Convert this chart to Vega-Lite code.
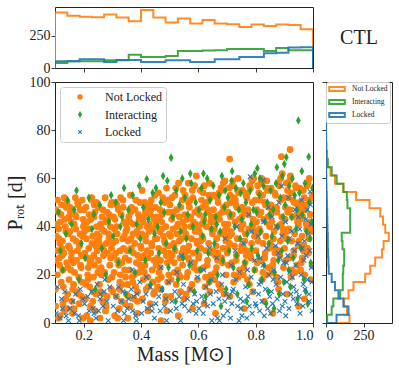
{
"$schema":"https://vega.github.io/schema/vega-lite/v6.json",
"padding":{"left":4,"top":6,"right":0,"bottom":0},
"config":{
 "font":"Liberation Serif",
 "view":{"stroke":"#222","strokeWidth":1},
 "axis":{"grid":false,"domain":false,"tickColor":"#222","tickWidth":0.9,"tickSize":4,"labelFontSize":14,"labelColor":"#222","labelPadding":1,"titleFontSize":20,"titleFontWeight":"normal","titleColor":"#222","labelFont":"Liberation Serif","titleFont":"Liberation Serif"}
},
"datasets":{
"top":[
{"c":"N","o":0,"m":0.1,"n":0},{"c":"N","o":1,"m":0.1,"n":433},{"c":"N","o":2,"m":0.1429,"n":406},{"c":"N","o":3,"m":0.1857,"n":400},{"c":"N","o":4,"m":0.2286,"n":395},{"c":"N","o":5,"m":0.2714,"n":417},{"c":"N","o":6,"m":0.3143,"n":393},{"c":"N","o":7,"m":0.3571,"n":365},{"c":"N","o":8,"m":0.4,"n":451},{"c":"N","o":9,"m":0.4429,"n":393},{"c":"N","o":10,"m":0.4857,"n":355},{"c":"N","o":11,"m":0.5286,"n":386},{"c":"N","o":12,"m":0.5714,"n":347},{"c":"N","o":13,"m":0.6143,"n":373},{"c":"N","o":14,"m":0.6571,"n":347},{"c":"N","o":15,"m":0.7,"n":341},{"c":"N","o":16,"m":0.7429,"n":320},{"c":"N","o":17,"m":0.7857,"n":339},{"c":"N","o":18,"m":0.8286,"n":328},{"c":"N","o":19,"m":0.8714,"n":339},{"c":"N","o":20,"m":0.9143,"n":334},{"c":"N","o":21,"m":0.9571,"n":302},{"c":"N","o":22,"m":1.0,"n":0},
{"c":"I","o":0,"m":0.1,"n":0},{"c":"I","o":1,"m":0.1,"n":39},{"c":"I","o":2,"m":0.1429,"n":52},{"c":"I","o":3,"m":0.1857,"n":52},{"c":"I","o":4,"m":0.2286,"n":52},{"c":"I","o":5,"m":0.2714,"n":60},{"c":"I","o":6,"m":0.3143,"n":60},{"c":"I","o":7,"m":0.3571,"n":104},{"c":"I","o":8,"m":0.4,"n":86},{"c":"I","o":9,"m":0.4429,"n":86},{"c":"I","o":10,"m":0.4857,"n":94},{"c":"I","o":11,"m":0.5286,"n":133},{"c":"I","o":12,"m":0.5714,"n":133},{"c":"I","o":13,"m":0.6143,"n":136},{"c":"I","o":14,"m":0.6571,"n":138},{"c":"I","o":15,"m":0.7,"n":148},{"c":"I","o":16,"m":0.7429,"n":148},{"c":"I","o":17,"m":0.7857,"n":148},{"c":"I","o":18,"m":0.8286,"n":133},{"c":"I","o":19,"m":0.8714,"n":156},{"c":"I","o":20,"m":0.9143,"n":138},{"c":"I","o":21,"m":0.9571,"n":138},{"c":"I","o":22,"m":1.0,"n":0},
{"c":"L","o":0,"m":0.1,"n":0},{"c":"L","o":1,"m":0.1,"n":52},{"c":"L","o":2,"m":0.1429,"n":52},{"c":"L","o":3,"m":0.1857,"n":68},{"c":"L","o":4,"m":0.2286,"n":68},{"c":"L","o":5,"m":0.2714,"n":47},{"c":"L","o":6,"m":0.3143,"n":63},{"c":"L","o":7,"m":0.3571,"n":63},{"c":"L","o":8,"m":0.4,"n":47},{"c":"L","o":9,"m":0.4429,"n":47},{"c":"L","o":10,"m":0.4857,"n":60},{"c":"L","o":11,"m":0.5286,"n":60},{"c":"L","o":12,"m":0.5714,"n":47},{"c":"L","o":13,"m":0.6143,"n":47},{"c":"L","o":14,"m":0.6571,"n":68},{"c":"L","o":15,"m":0.7,"n":68},{"c":"L","o":16,"m":0.7429,"n":86},{"c":"L","o":17,"m":0.7857,"n":86},{"c":"L","o":18,"m":0.8286,"n":115},{"c":"L","o":19,"m":0.8714,"n":118},{"c":"L","o":20,"m":0.9143,"n":160},{"c":"L","o":21,"m":0.9571,"n":162},{"c":"L","o":22,"m":1.0,"n":0}
],
"right":[
{"c":"N","o":0,"p":0,"n":0},{"c":"N","o":1,"p":0,"n":156},{"c":"N","o":2,"p":3.4,"n":140},{"c":"N","o":3,"p":6.8,"n":121},{"c":"N","o":4,"p":10.2,"n":150},{"c":"N","o":5,"p":13.6,"n":183},{"c":"N","o":6,"p":17,"n":261},{"c":"N","o":7,"p":20.4,"n":295},{"c":"N","o":8,"p":23.8,"n":328},{"c":"N","o":9,"p":27.2,"n":373},{"c":"N","o":10,"p":30.6,"n":384},{"c":"N","o":11,"p":34,"n":418},{"c":"N","o":12,"p":37.4,"n":395},{"c":"N","o":13,"p":40.8,"n":380},{"c":"N","o":14,"p":44.2,"n":362},{"c":"N","o":15,"p":47.6,"n":290},{"c":"N","o":16,"p":51,"n":200},{"c":"N","o":17,"p":54.4,"n":116},{"c":"N","o":18,"p":57.8,"n":60},{"c":"N","o":19,"p":61.2,"n":30},{"c":"N","o":20,"p":64.6,"n":9},{"c":"N","o":21,"p":68,"n":4},{"c":"N","o":22,"p":71.4,"n":2},{"c":"N","o":23,"p":74.8,"n":0},{"c":"N","o":24,"p":78.2,"n":0},{"c":"N","o":25,"p":81.6,"n":0},{"c":"N","o":26,"p":85,"n":0},
{"c":"I","o":0,"p":0,"n":0},{"c":"I","o":1,"p":0,"n":8},{"c":"I","o":2,"p":3.4,"n":38},{"c":"I","o":3,"p":6.8,"n":49},{"c":"I","o":4,"p":10.2,"n":94},{"c":"I","o":5,"p":13.6,"n":112},{"c":"I","o":6,"p":17,"n":112},{"c":"I","o":7,"p":20.4,"n":115},{"c":"I","o":8,"p":23.8,"n":121},{"c":"I","o":9,"p":27.2,"n":121},{"c":"I","o":10,"p":30.6,"n":110},{"c":"I","o":11,"p":34,"n":105},{"c":"I","o":12,"p":37.4,"n":161},{"c":"I","o":13,"p":40.8,"n":161},{"c":"I","o":14,"p":44.2,"n":161},{"c":"I","o":15,"p":47.6,"n":143},{"c":"I","o":16,"p":51,"n":139},{"c":"I","o":17,"p":54.4,"n":116},{"c":"I","o":18,"p":57.8,"n":71},{"c":"I","o":19,"p":61.2,"n":38},{"c":"I","o":20,"p":64.6,"n":12},{"c":"I","o":21,"p":68,"n":5},{"c":"I","o":22,"p":71.4,"n":2},{"c":"I","o":23,"p":74.8,"n":1},{"c":"I","o":24,"p":78.2,"n":0},{"c":"I","o":25,"p":81.6,"n":1},{"c":"I","o":26,"p":85,"n":0},
{"c":"L","o":0,"p":0,"n":0},{"c":"L","o":1,"p":0,"n":70},{"c":"L","o":2,"p":3.4,"n":150},{"c":"L","o":3,"p":6.8,"n":116},{"c":"L","o":4,"p":10.2,"n":83},{"c":"L","o":5,"p":13.6,"n":60},{"c":"L","o":6,"p":17,"n":38},{"c":"L","o":7,"p":20.4,"n":18},{"c":"L","o":8,"p":23.8,"n":16},{"c":"L","o":9,"p":27.2,"n":14},{"c":"L","o":10,"p":30.6,"n":12},{"c":"L","o":11,"p":34,"n":12},{"c":"L","o":12,"p":37.4,"n":10},{"c":"L","o":13,"p":40.8,"n":9},{"c":"L","o":14,"p":44.2,"n":8},{"c":"L","o":15,"p":47.6,"n":6},{"c":"L","o":16,"p":51,"n":5},{"c":"L","o":17,"p":54.4,"n":3},{"c":"L","o":18,"p":57.8,"n":2},{"c":"L","o":19,"p":61.2,"n":1},{"c":"L","o":20,"p":64.6,"n":0},{"c":"L","o":21,"p":68,"n":0},{"c":"L","o":22,"p":71.4,"n":0},{"c":"L","o":23,"p":74.8,"n":0},{"c":"L","o":24,"p":78.2,"n":0},{"c":"L","o":25,"p":81.6,"n":0},{"c":"L","o":26,"p":85,"n":0}
],
"pts":[
{"m":0.103,"p":47,"c":"N"},{"m":0.117,"p":33,"c":"N"},{"m":0.128,"p":8,"c":"N"},{"m":0.141,"p":25,"c":"N"},{"m":0.109,"p":51,"c":"N"},{"m":0.136,"p":40,"c":"N"},{"m":0.122,"p":17,"c":"N"},{"m":0.148,"p":44,"c":"N"},{"m":0.112,"p":2,"c":"N"},{"m":0.131,"p":29,"c":"N"},{"m":0.105,"p":36,"c":"N"},{"m":0.144,"p":12,"c":"N"},{"m":0.119,"p":42,"c":"N"},{"m":0.127,"p":22,"c":"N"},{"m":0.139,"p":48,"c":"N"},{"m":0.101,"p":14,"c":"N"},{"m":0.133,"p":5,"c":"N"},{"m":0.115,"p":27,"c":"N"},{"m":0.146,"p":37,"c":"N"},{"m":0.124,"p":31,"c":"N"},{"m":0.108,"p":20,"c":"N"},{"m":0.142,"p":50,"c":"N"},{"m":0.113,"p":39,"c":"N"},{"m":0.137,"p":10,"c":"N"},{"m":0.121,"p":45,"c":"N"},{"m":0.104,"p":26,"c":"N"},{"m":0.149,"p":18,"c":"N"},{"m":0.126,"p":34,"c":"N"},{"m":0.118,"p":3,"c":"N"},{"m":0.134,"p":43,"c":"N"},{"m":0.107,"p":30,"c":"N"},{"m":0.145,"p":23,"c":"N"},{"m":0.111,"p":46,"c":"N"},{"m":0.129,"p":15,"c":"N"},{"m":0.138,"p":38,"c":"N"},{"m":0.102,"p":7,"c":"N"},{"m":0.123,"p":49,"c":"N"},{"m":0.147,"p":32,"c":"N"},{"m":0.116,"p":24,"c":"N"},{"m":0.132,"p":52,"c":"N"},{"m":0.106,"p":41,"c":"N"},{"m":0.143,"p":6,"c":"N"},{"m":0.125,"p":28,"c":"N"},{"m":0.114,"p":35,"c":"N"},
{"m":0.152,"p":38,"c":"N"},{"m":0.168,"p":21,"c":"N"},{"m":0.181,"p":49,"c":"N"},{"m":0.193,"p":11,"c":"N"},{"m":0.157,"p":27,"c":"N"},{"m":0.174,"p":44,"c":"N"},{"m":0.186,"p":33,"c":"N"},{"m":0.161,"p":4,"c":"N"},{"m":0.199,"p":40,"c":"N"},{"m":0.165,"p":16,"c":"N"},{"m":0.178,"p":30,"c":"N"},{"m":0.154,"p":46,"c":"N"},{"m":0.189,"p":24,"c":"N"},{"m":0.171,"p":52,"c":"N"},{"m":0.196,"p":36,"c":"N"},{"m":0.159,"p":9,"c":"N"},{"m":0.183,"p":19,"c":"N"},{"m":0.167,"p":41,"c":"N"},{"m":0.192,"p":28,"c":"N"},{"m":0.151,"p":31,"c":"N"},{"m":0.176,"p":13,"c":"N"},{"m":0.188,"p":47,"c":"N"},{"m":0.163,"p":35,"c":"N"},{"m":0.197,"p":2,"c":"N"},{"m":0.155,"p":22,"c":"N"},{"m":0.172,"p":39,"c":"N"},{"m":0.184,"p":8,"c":"N"},{"m":0.169,"p":45,"c":"N"},{"m":0.194,"p":17,"c":"N"},{"m":0.158,"p":29,"c":"N"},{"m":0.179,"p":50,"c":"N"},{"m":0.187,"p":37,"c":"N"},{"m":0.162,"p":14,"c":"N"},{"m":0.198,"p":43,"c":"N"},{"m":0.175,"p":26,"c":"N"},{"m":0.153,"p":48,"c":"N"},{"m":0.185,"p":32,"c":"N"},{"m":0.166,"p":6,"c":"N"},{"m":0.191,"p":23,"c":"N"},{"m":0.173,"p":34,"c":"N"},{"m":0.156,"p":42,"c":"N"},{"m":0.182,"p":12,"c":"N"},{"m":0.164,"p":25,"c":"N"},{"m":0.195,"p":51,"c":"N"},
{"m":0.204,"p":29,"c":"N"},{"m":0.219,"p":45,"c":"N"},{"m":0.233,"p":13,"c":"N"},{"m":0.246,"p":37,"c":"N"},{"m":0.211,"p":3,"c":"N"},{"m":0.227,"p":51,"c":"N"},{"m":0.238,"p":24,"c":"N"},{"m":0.202,"p":41,"c":"N"},{"m":0.215,"p":18,"c":"N"},{"m":0.242,"p":32,"c":"N"},{"m":0.224,"p":7,"c":"N"},{"m":0.208,"p":48,"c":"N"},{"m":0.231,"p":36,"c":"N"},{"m":0.249,"p":21,"c":"N"},{"m":0.213,"p":27,"c":"N"},{"m":0.236,"p":44,"c":"N"},{"m":0.221,"p":15,"c":"N"},{"m":0.244,"p":50,"c":"N"},{"m":0.206,"p":10,"c":"N"},{"m":0.229,"p":33,"c":"N"},{"m":0.217,"p":39,"c":"N"},{"m":0.241,"p":5,"c":"N"},{"m":0.226,"p":26,"c":"N"},{"m":0.201,"p":47,"c":"N"},{"m":0.234,"p":19,"c":"N"},{"m":0.212,"p":42,"c":"N"},{"m":0.247,"p":30,"c":"N"},{"m":0.223,"p":1,"c":"N"},{"m":0.209,"p":35,"c":"N"},{"m":0.239,"p":46,"c":"N"},{"m":0.216,"p":23,"c":"N"},{"m":0.232,"p":9,"c":"N"},{"m":0.245,"p":40,"c":"N"},{"m":0.207,"p":16,"c":"N"},{"m":0.228,"p":52,"c":"N"},{"m":0.218,"p":31,"c":"N"},{"m":0.243,"p":12,"c":"N"},{"m":0.203,"p":38,"c":"N"},{"m":0.235,"p":28,"c":"N"},{"m":0.225,"p":43,"c":"N"},{"m":0.214,"p":20,"c":"N"},{"m":0.248,"p":34,"c":"N"},{"m":0.237,"p":49,"c":"N"},{"m":0.222,"p":25,"c":"N"},
{"m":0.253,"p":34,"c":"N"},{"m":0.268,"p":12,"c":"N"},{"m":0.281,"p":46,"c":"N"},{"m":0.294,"p":27,"c":"N"},{"m":0.259,"p":41,"c":"N"},{"m":0.276,"p":5,"c":"N"},{"m":0.287,"p":37,"c":"N"},{"m":0.262,"p":20,"c":"N"},{"m":0.298,"p":50,"c":"N"},{"m":0.271,"p":30,"c":"N"},{"m":0.255,"p":16,"c":"N"},{"m":0.284,"p":43,"c":"N"},{"m":0.266,"p":9,"c":"N"},{"m":0.291,"p":24,"c":"N"},{"m":0.251,"p":48,"c":"N"},{"m":0.279,"p":33,"c":"N"},{"m":0.263,"p":39,"c":"N"},{"m":0.296,"p":14,"c":"N"},{"m":0.273,"p":21,"c":"N"},{"m":0.257,"p":2,"c":"N"},{"m":0.289,"p":45,"c":"N"},{"m":0.269,"p":28,"c":"N"},{"m":0.282,"p":11,"c":"N"},{"m":0.254,"p":36,"c":"N"},{"m":0.297,"p":31,"c":"N"},{"m":0.275,"p":52,"c":"N"},{"m":0.261,"p":23,"c":"N"},{"m":0.286,"p":18,"c":"N"},{"m":0.293,"p":40,"c":"N"},{"m":0.267,"p":47,"c":"N"},{"m":0.252,"p":26,"c":"N"},{"m":0.278,"p":7,"c":"N"},{"m":0.288,"p":35,"c":"N"},{"m":0.264,"p":44,"c":"N"},{"m":0.299,"p":19,"c":"N"},{"m":0.272,"p":38,"c":"N"},{"m":0.258,"p":13,"c":"N"},{"m":0.283,"p":29,"c":"N"},{"m":0.295,"p":49,"c":"N"},{"m":0.265,"p":32,"c":"N"},{"m":0.277,"p":42,"c":"N"},{"m":0.256,"p":22,"c":"N"},
{"m":0.304,"p":44,"c":"N"},{"m":0.318,"p":26,"c":"N"},{"m":0.332,"p":9,"c":"N"},{"m":0.347,"p":38,"c":"N"},{"m":0.311,"p":50,"c":"N"},{"m":0.326,"p":17,"c":"N"},{"m":0.339,"p":31,"c":"N"},{"m":0.302,"p":13,"c":"N"},{"m":0.315,"p":40,"c":"N"},{"m":0.343,"p":22,"c":"N"},{"m":0.321,"p":47,"c":"N"},{"m":0.308,"p":3,"c":"N"},{"m":0.336,"p":35,"c":"N"},{"m":0.349,"p":12,"c":"N"},{"m":0.313,"p":29,"c":"N"},{"m":0.329,"p":52,"c":"N"},{"m":0.341,"p":42,"c":"N"},{"m":0.306,"p":21,"c":"N"},{"m":0.324,"p":6,"c":"N"},{"m":0.345,"p":27,"c":"N"},{"m":0.317,"p":37,"c":"N"},{"m":0.334,"p":16,"c":"N"},{"m":0.301,"p":33,"c":"N"},{"m":0.338,"p":48,"c":"N"},{"m":0.322,"p":24,"c":"N"},{"m":0.309,"p":43,"c":"N"},{"m":0.346,"p":19,"c":"N"},{"m":0.327,"p":30,"c":"N"},{"m":0.314,"p":11,"c":"N"},{"m":0.342,"p":36,"c":"N"},{"m":0.331,"p":45,"c":"N"},{"m":0.305,"p":28,"c":"N"},{"m":0.319,"p":2,"c":"N"},{"m":0.337,"p":51,"c":"N"},{"m":0.348,"p":41,"c":"N"},{"m":0.312,"p":34,"c":"N"},{"m":0.325,"p":14,"c":"N"},{"m":0.344,"p":8,"c":"N"},{"m":0.307,"p":39,"c":"N"},{"m":0.333,"p":25,"c":"N"},{"m":0.316,"p":49,"c":"N"},{"m":0.328,"p":20,"c":"N"},
{"m":0.352,"p":30,"c":"N"},{"m":0.367,"p":48,"c":"N"},{"m":0.381,"p":15,"c":"N"},{"m":0.394,"p":36,"c":"N"},{"m":0.359,"p":22,"c":"N"},{"m":0.373,"p":41,"c":"N"},{"m":0.386,"p":4,"c":"N"},{"m":0.363,"p":53,"c":"N"},{"m":0.398,"p":27,"c":"N"},{"m":0.356,"p":11,"c":"N"},{"m":0.378,"p":33,"c":"N"},{"m":0.391,"p":45,"c":"N"},{"m":0.369,"p":19,"c":"N"},{"m":0.351,"p":39,"c":"N"},{"m":0.384,"p":25,"c":"N"},{"m":0.362,"p":7,"c":"N"},{"m":0.396,"p":50,"c":"N"},{"m":0.374,"p":29,"c":"N"},{"m":0.357,"p":44,"c":"N"},{"m":0.388,"p":13,"c":"N"},{"m":0.365,"p":35,"c":"N"},{"m":0.392,"p":21,"c":"N"},{"m":0.354,"p":2,"c":"N"},{"m":0.379,"p":47,"c":"N"},{"m":0.371,"p":17,"c":"N"},{"m":0.399,"p":32,"c":"N"},{"m":0.361,"p":42,"c":"N"},{"m":0.385,"p":38,"c":"N"},{"m":0.358,"p":26,"c":"N"},{"m":0.376,"p":10,"c":"N"},{"m":0.393,"p":43,"c":"N"},{"m":0.366,"p":31,"c":"N"},{"m":0.382,"p":51,"c":"N"},{"m":0.353,"p":16,"c":"N"},{"m":0.397,"p":24,"c":"N"},{"m":0.372,"p":37,"c":"N"},{"m":0.387,"p":9,"c":"N"},{"m":0.364,"p":46,"c":"N"},{"m":0.389,"p":28,"c":"N"},{"m":0.355,"p":34,"c":"N"},{"m":0.377,"p":20,"c":"N"},{"m":0.395,"p":40,"c":"N"},
{"m":0.403,"p":37,"c":"N"},{"m":0.418,"p":14,"c":"N"},{"m":0.431,"p":49,"c":"N"},{"m":0.445,"p":26,"c":"N"},{"m":0.409,"p":44,"c":"N"},{"m":0.424,"p":5,"c":"N"},{"m":0.437,"p":33,"c":"N"},{"m":0.412,"p":21,"c":"N"},{"m":0.448,"p":53,"c":"N"},{"m":0.421,"p":40,"c":"N"},{"m":0.405,"p":10,"c":"N"},{"m":0.434,"p":29,"c":"N"},{"m":0.416,"p":46,"c":"N"},{"m":0.441,"p":17,"c":"N"},{"m":0.401,"p":31,"c":"N"},{"m":0.428,"p":38,"c":"N"},{"m":0.444,"p":12,"c":"N"},{"m":0.414,"p":24,"c":"N"},{"m":0.436,"p":51,"c":"N"},{"m":0.407,"p":42,"c":"N"},{"m":0.423,"p":19,"c":"N"},{"m":0.449,"p":35,"c":"N"},{"m":0.419,"p":48,"c":"N"},{"m":0.432,"p":8,"c":"N"},{"m":0.411,"p":28,"c":"N"},{"m":0.446,"p":43,"c":"N"},{"m":0.426,"p":15,"c":"N"},{"m":0.404,"p":55,"c":"N"},{"m":0.439,"p":22,"c":"N"},{"m":0.417,"p":34,"c":"N"},{"m":0.433,"p":45,"c":"N"},{"m":0.408,"p":18,"c":"N"},{"m":0.443,"p":39,"c":"N"},{"m":0.425,"p":27,"c":"N"},{"m":0.413,"p":50,"c":"N"},{"m":0.438,"p":32,"c":"N"},{"m":0.402,"p":23,"c":"N"},{"m":0.429,"p":41,"c":"N"},{"m":0.447,"p":13,"c":"N"},{"m":0.415,"p":36,"c":"N"},{"m":0.435,"p":47,"c":"N"},{"m":0.422,"p":30,"c":"N"},
{"m":0.452,"p":41,"c":"N"},{"m":0.467,"p":23,"c":"N"},{"m":0.483,"p":50,"c":"N"},{"m":0.496,"p":32,"c":"N"},{"m":0.458,"p":15,"c":"N"},{"m":0.474,"p":45,"c":"N"},{"m":0.488,"p":28,"c":"N"},{"m":0.461,"p":54,"c":"N"},{"m":0.499,"p":37,"c":"N"},{"m":0.471,"p":19,"c":"N"},{"m":0.455,"p":35,"c":"N"},{"m":0.486,"p":11,"c":"N"},{"m":0.464,"p":43,"c":"N"},{"m":0.492,"p":25,"c":"N"},{"m":0.451,"p":48,"c":"N"},{"m":0.479,"p":30,"c":"N"},{"m":0.463,"p":21,"c":"N"},{"m":0.495,"p":46,"c":"N"},{"m":0.473,"p":39,"c":"N"},{"m":0.457,"p":27,"c":"N"},{"m":0.489,"p":56,"c":"N"},{"m":0.469,"p":14,"c":"N"},{"m":0.482,"p":34,"c":"N"},{"m":0.454,"p":44,"c":"N"},{"m":0.497,"p":20,"c":"N"},{"m":0.476,"p":52,"c":"N"},{"m":0.462,"p":31,"c":"N"},{"m":0.487,"p":40,"c":"N"},{"m":0.493,"p":17,"c":"N"},{"m":0.466,"p":47,"c":"N"},{"m":0.453,"p":24,"c":"N"},{"m":0.478,"p":36,"c":"N"},{"m":0.485,"p":9,"c":"N"},{"m":0.465,"p":38,"c":"N"},{"m":0.498,"p":29,"c":"N"},{"m":0.472,"p":42,"c":"N"},{"m":0.459,"p":18,"c":"N"},{"m":0.484,"p":33,"c":"N"},{"m":0.494,"p":51,"c":"N"},{"m":0.468,"p":26,"c":"N"},
{"m":0.503,"p":36,"c":"N"},{"m":0.518,"p":53,"c":"N"},{"m":0.532,"p":20,"c":"N"},{"m":0.546,"p":42,"c":"N"},{"m":0.509,"p":28,"c":"N"},{"m":0.524,"p":47,"c":"N"},{"m":0.538,"p":13,"c":"N"},{"m":0.512,"p":39,"c":"N"},{"m":0.548,"p":31,"c":"N"},{"m":0.521,"p":56,"c":"N"},{"m":0.505,"p":18,"c":"N"},{"m":0.534,"p":44,"c":"N"},{"m":0.516,"p":25,"c":"N"},{"m":0.541,"p":35,"c":"N"},{"m":0.501,"p":49,"c":"N"},{"m":0.528,"p":22,"c":"N"},{"m":0.544,"p":51,"c":"N"},{"m":0.514,"p":33,"c":"N"},{"m":0.536,"p":27,"c":"N"},{"m":0.507,"p":43,"c":"N"},{"m":0.523,"p":16,"c":"N"},{"m":0.549,"p":38,"c":"N"},{"m":0.519,"p":30,"c":"N"},{"m":0.531,"p":58,"c":"N"},{"m":0.511,"p":46,"c":"N"},{"m":0.545,"p":24,"c":"N"},{"m":0.526,"p":40,"c":"N"},{"m":0.504,"p":11,"c":"N"},{"m":0.539,"p":48,"c":"N"},{"m":0.517,"p":21,"c":"N"},{"m":0.533,"p":34,"c":"N"},{"m":0.508,"p":52,"c":"N"},{"m":0.543,"p":29,"c":"N"},{"m":0.525,"p":37,"c":"N"},{"m":0.513,"p":45,"c":"N"},{"m":0.537,"p":19,"c":"N"},{"m":0.502,"p":26,"c":"N"},{"m":0.529,"p":41,"c":"N"},{"m":0.547,"p":55,"c":"N"},{"m":0.515,"p":32,"c":"N"},
{"m":0.553,"p":45,"c":"N"},{"m":0.568,"p":26,"c":"N"},{"m":0.581,"p":52,"c":"N"},{"m":0.594,"p":34,"c":"N"},{"m":0.559,"p":19,"c":"N"},{"m":0.574,"p":40,"c":"N"},{"m":0.587,"p":57,"c":"N"},{"m":0.562,"p":30,"c":"N"},{"m":0.598,"p":47,"c":"N"},{"m":0.571,"p":14,"c":"N"},{"m":0.556,"p":37,"c":"N"},{"m":0.584,"p":23,"c":"N"},{"m":0.566,"p":50,"c":"N"},{"m":0.591,"p":41,"c":"N"},{"m":0.551,"p":28,"c":"N"},{"m":0.579,"p":55,"c":"N"},{"m":0.563,"p":21,"c":"N"},{"m":0.596,"p":33,"c":"N"},{"m":0.573,"p":44,"c":"N"},{"m":0.557,"p":12,"c":"N"},{"m":0.589,"p":38,"c":"N"},{"m":0.569,"p":48,"c":"N"},{"m":0.582,"p":29,"c":"N"},{"m":0.554,"p":53,"c":"N"},{"m":0.597,"p":18,"c":"N"},{"m":0.576,"p":35,"c":"N"},{"m":0.561,"p":43,"c":"N"},{"m":0.586,"p":25,"c":"N"},{"m":0.593,"p":61,"c":"N"},{"m":0.567,"p":32,"c":"N"},{"m":0.552,"p":40,"c":"N"},{"m":0.578,"p":16,"c":"N"},{"m":0.588,"p":46,"c":"N"},{"m":0.564,"p":27,"c":"N"},{"m":0.599,"p":39,"c":"N"},{"m":0.572,"p":51,"c":"N"},{"m":0.558,"p":36,"c":"N"},{"m":0.583,"p":42,"c":"N"},{"m":0.595,"p":22,"c":"N"},{"m":0.565,"p":58,"c":"N"},
{"m":0.603,"p":38,"c":"N"},{"m":0.617,"p":54,"c":"N"},{"m":0.631,"p":24,"c":"N"},{"m":0.645,"p":44,"c":"N"},{"m":0.609,"p":31,"c":"N"},{"m":0.624,"p":49,"c":"N"},{"m":0.638,"p":17,"c":"N"},{"m":0.612,"p":41,"c":"N"},{"m":0.648,"p":29,"c":"N"},{"m":0.621,"p":57,"c":"N"},{"m":0.605,"p":22,"c":"N"},{"m":0.634,"p":46,"c":"N"},{"m":0.616,"p":35,"c":"N"},{"m":0.641,"p":52,"c":"N"},{"m":0.601,"p":27,"c":"N"},{"m":0.628,"p":40,"c":"N"},{"m":0.644,"p":20,"c":"N"},{"m":0.614,"p":48,"c":"N"},{"m":0.636,"p":33,"c":"N"},{"m":0.607,"p":55,"c":"N"},{"m":0.623,"p":15,"c":"N"},{"m":0.649,"p":37,"c":"N"},{"m":0.619,"p":43,"c":"N"},{"m":0.632,"p":26,"c":"N"},{"m":0.611,"p":51,"c":"N"},{"m":0.646,"p":39,"c":"N"},{"m":0.626,"p":30,"c":"N"},{"m":0.604,"p":45,"c":"N"},{"m":0.639,"p":58,"c":"N"},{"m":0.618,"p":23,"c":"N"},{"m":0.633,"p":47,"c":"N"},{"m":0.608,"p":34,"c":"N"},{"m":0.643,"p":42,"c":"N"},{"m":0.625,"p":19,"c":"N"},{"m":0.613,"p":36,"c":"N"},{"m":0.637,"p":53,"c":"N"},{"m":0.602,"p":28,"c":"N"},{"m":0.629,"p":50,"c":"N"},
{"m":0.653,"p":47,"c":"N"},{"m":0.668,"p":29,"c":"N"},{"m":0.682,"p":55,"c":"N"},{"m":0.695,"p":36,"c":"N"},{"m":0.659,"p":21,"c":"N"},{"m":0.674,"p":43,"c":"N"},{"m":0.687,"p":58,"c":"N"},{"m":0.662,"p":32,"c":"N"},{"m":0.698,"p":49,"c":"N"},{"m":0.671,"p":16,"c":"N"},{"m":0.656,"p":39,"c":"N"},{"m":0.684,"p":25,"c":"N"},{"m":0.666,"p":52,"c":"N"},{"m":0.691,"p":41,"c":"N"},{"m":0.651,"p":30,"c":"N"},{"m":0.679,"p":56,"c":"N"},{"m":0.663,"p":23,"c":"N"},{"m":0.696,"p":34,"c":"N"},{"m":0.673,"p":45,"c":"N"},{"m":0.657,"p":18,"c":"N"},{"m":0.689,"p":38,"c":"N"},{"m":0.669,"p":50,"c":"N"},{"m":0.681,"p":27,"c":"N"},{"m":0.654,"p":53,"c":"N"},{"m":0.697,"p":20,"c":"N"},{"m":0.676,"p":37,"c":"N"},{"m":0.661,"p":44,"c":"N"},{"m":0.686,"p":31,"c":"N"},{"m":0.693,"p":59,"c":"N"},{"m":0.667,"p":26,"c":"N"},{"m":0.652,"p":42,"c":"N"},{"m":0.678,"p":14,"c":"N"},{"m":0.688,"p":48,"c":"N"},{"m":0.664,"p":35,"c":"N"},{"m":0.699,"p":40,"c":"N"},{"m":0.672,"p":54,"c":"N"},{"m":0.658,"p":28,"c":"N"},{"m":0.683,"p":46,"c":"N"},
{"m":0.703,"p":41,"c":"N"},{"m":0.718,"p":57,"c":"N"},{"m":0.732,"p":26,"c":"N"},{"m":0.746,"p":47,"c":"N"},{"m":0.709,"p":33,"c":"N"},{"m":0.724,"p":52,"c":"N"},{"m":0.738,"p":19,"c":"N"},{"m":0.712,"p":44,"c":"N"},{"m":0.748,"p":30,"c":"N"},{"m":0.721,"p":59,"c":"N"},{"m":0.705,"p":24,"c":"N"},{"m":0.734,"p":48,"c":"N"},{"m":0.716,"p":37,"c":"N"},{"m":0.741,"p":54,"c":"N"},{"m":0.701,"p":29,"c":"N"},{"m":0.728,"p":42,"c":"N"},{"m":0.744,"p":22,"c":"N"},{"m":0.714,"p":50,"c":"N"},{"m":0.736,"p":35,"c":"N"},{"m":0.707,"p":56,"c":"N"},{"m":0.723,"p":17,"c":"N"},{"m":0.749,"p":39,"c":"N"},{"m":0.719,"p":45,"c":"N"},{"m":0.733,"p":28,"c":"N"},{"m":0.711,"p":53,"c":"N"},{"m":0.747,"p":40,"c":"N"},{"m":0.726,"p":32,"c":"N"},{"m":0.704,"p":46,"c":"N"},{"m":0.739,"p":60,"c":"N"},{"m":0.717,"p":25,"c":"N"},{"m":0.731,"p":49,"c":"N"},{"m":0.708,"p":36,"c":"N"},{"m":0.743,"p":43,"c":"N"},{"m":0.725,"p":20,"c":"N"},{"m":0.713,"p":38,"c":"N"},{"m":0.737,"p":55,"c":"N"},{"m":0.702,"p":31,"c":"N"},{"m":0.729,"p":51,"c":"N"},{"m":0.709,"p":68,"c":"N"},
{"m":0.753,"p":48,"c":"N"},{"m":0.768,"p":30,"c":"N"},{"m":0.782,"p":56,"c":"N"},{"m":0.795,"p":38,"c":"N"},{"m":0.759,"p":23,"c":"N"},{"m":0.774,"p":45,"c":"N"},{"m":0.787,"p":59,"c":"N"},{"m":0.762,"p":34,"c":"N"},{"m":0.798,"p":51,"c":"N"},{"m":0.771,"p":18,"c":"N"},{"m":0.756,"p":41,"c":"N"},{"m":0.784,"p":27,"c":"N"},{"m":0.766,"p":53,"c":"N"},{"m":0.791,"p":43,"c":"N"},{"m":0.751,"p":32,"c":"N"},{"m":0.779,"p":57,"c":"N"},{"m":0.763,"p":25,"c":"N"},{"m":0.796,"p":36,"c":"N"},{"m":0.773,"p":47,"c":"N"},{"m":0.757,"p":20,"c":"N"},{"m":0.789,"p":40,"c":"N"},{"m":0.769,"p":52,"c":"N"},{"m":0.781,"p":29,"c":"N"},{"m":0.754,"p":55,"c":"N"},{"m":0.797,"p":22,"c":"N"},{"m":0.776,"p":39,"c":"N"},{"m":0.761,"p":46,"c":"N"},{"m":0.786,"p":33,"c":"N"},{"m":0.793,"p":60,"c":"N"},{"m":0.767,"p":28,"c":"N"},{"m":0.752,"p":44,"c":"N"},{"m":0.778,"p":16,"c":"N"},{"m":0.788,"p":50,"c":"N"},{"m":0.764,"p":37,"c":"N"},{"m":0.799,"p":42,"c":"N"},{"m":0.772,"p":54,"c":"N"},{"m":0.758,"p":31,"c":"N"},
{"m":0.803,"p":42,"c":"N"},{"m":0.818,"p":58,"c":"N"},{"m":0.832,"p":27,"c":"N"},{"m":0.846,"p":48,"c":"N"},{"m":0.809,"p":34,"c":"N"},{"m":0.824,"p":53,"c":"N"},{"m":0.838,"p":20,"c":"N"},{"m":0.812,"p":45,"c":"N"},{"m":0.848,"p":31,"c":"N"},{"m":0.821,"p":60,"c":"N"},{"m":0.805,"p":25,"c":"N"},{"m":0.834,"p":49,"c":"N"},{"m":0.816,"p":38,"c":"N"},{"m":0.841,"p":55,"c":"N"},{"m":0.801,"p":30,"c":"N"},{"m":0.828,"p":43,"c":"N"},{"m":0.844,"p":23,"c":"N"},{"m":0.814,"p":51,"c":"N"},{"m":0.836,"p":36,"c":"N"},{"m":0.807,"p":57,"c":"N"},{"m":0.823,"p":18,"c":"N"},{"m":0.849,"p":40,"c":"N"},{"m":0.819,"p":46,"c":"N"},{"m":0.833,"p":29,"c":"N"},{"m":0.811,"p":54,"c":"N"},{"m":0.846,"p":41,"c":"N"},{"m":0.826,"p":33,"c":"N"},{"m":0.804,"p":47,"c":"N"},{"m":0.839,"p":59,"c":"N"},{"m":0.817,"p":26,"c":"N"},{"m":0.831,"p":50,"c":"N"},{"m":0.808,"p":37,"c":"N"},{"m":0.843,"p":44,"c":"N"},{"m":0.825,"p":21,"c":"N"},{"m":0.813,"p":39,"c":"N"},{"m":0.837,"p":56,"c":"N"},
{"m":0.853,"p":49,"c":"N"},{"m":0.868,"p":31,"c":"N"},{"m":0.882,"p":57,"c":"N"},{"m":0.895,"p":39,"c":"N"},{"m":0.859,"p":24,"c":"N"},{"m":0.874,"p":46,"c":"N"},{"m":0.887,"p":60,"c":"N"},{"m":0.862,"p":35,"c":"N"},{"m":0.898,"p":52,"c":"N"},{"m":0.871,"p":19,"c":"N"},{"m":0.856,"p":42,"c":"N"},{"m":0.884,"p":28,"c":"N"},{"m":0.866,"p":54,"c":"N"},{"m":0.891,"p":44,"c":"N"},{"m":0.851,"p":33,"c":"N"},{"m":0.879,"p":58,"c":"N"},{"m":0.863,"p":26,"c":"N"},{"m":0.896,"p":37,"c":"N"},{"m":0.873,"p":48,"c":"N"},{"m":0.857,"p":21,"c":"N"},{"m":0.889,"p":41,"c":"N"},{"m":0.869,"p":53,"c":"N"},{"m":0.881,"p":30,"c":"N"},{"m":0.854,"p":56,"c":"N"},{"m":0.897,"p":23,"c":"N"},{"m":0.876,"p":40,"c":"N"},{"m":0.861,"p":47,"c":"N"},{"m":0.886,"p":34,"c":"N"},{"m":0.893,"p":62,"c":"N"},{"m":0.867,"p":29,"c":"N"},{"m":0.852,"p":45,"c":"N"},{"m":0.878,"p":17,"c":"N"},{"m":0.888,"p":51,"c":"N"},{"m":0.864,"p":38,"c":"N"},{"m":0.899,"p":43,"c":"N"},{"m":0.89,"p":69,"c":"N"},
{"m":0.903,"p":43,"c":"N"},{"m":0.918,"p":59,"c":"N"},{"m":0.932,"p":28,"c":"N"},{"m":0.946,"p":49,"c":"N"},{"m":0.909,"p":35,"c":"N"},{"m":0.924,"p":54,"c":"N"},{"m":0.938,"p":21,"c":"N"},{"m":0.912,"p":46,"c":"N"},{"m":0.948,"p":32,"c":"N"},{"m":0.921,"p":61,"c":"N"},{"m":0.905,"p":26,"c":"N"},{"m":0.934,"p":50,"c":"N"},{"m":0.916,"p":39,"c":"N"},{"m":0.941,"p":56,"c":"N"},{"m":0.901,"p":31,"c":"N"},{"m":0.928,"p":44,"c":"N"},{"m":0.944,"p":24,"c":"N"},{"m":0.914,"p":52,"c":"N"},{"m":0.936,"p":37,"c":"N"},{"m":0.907,"p":58,"c":"N"},{"m":0.923,"p":19,"c":"N"},{"m":0.949,"p":41,"c":"N"},{"m":0.919,"p":47,"c":"N"},{"m":0.933,"p":30,"c":"N"},{"m":0.911,"p":55,"c":"N"},{"m":0.946,"p":42,"c":"N"},{"m":0.926,"p":34,"c":"N"},{"m":0.904,"p":48,"c":"N"},{"m":0.939,"p":57,"c":"N"},{"m":0.917,"p":27,"c":"N"},{"m":0.931,"p":51,"c":"N"},{"m":0.908,"p":38,"c":"N"},{"m":0.943,"p":45,"c":"N"},{"m":0.925,"p":22,"c":"N"},{"m":0.92,"p":72,"c":"N"},
{"m":0.953,"p":50,"c":"N"},{"m":0.968,"p":32,"c":"N"},{"m":0.982,"p":58,"c":"N"},{"m":0.995,"p":40,"c":"N"},{"m":0.959,"p":25,"c":"N"},{"m":0.974,"p":47,"c":"N"},{"m":0.987,"p":60,"c":"N"},{"m":0.962,"p":36,"c":"N"},{"m":0.998,"p":53,"c":"N"},{"m":0.971,"p":20,"c":"N"},{"m":0.956,"p":43,"c":"N"},{"m":0.984,"p":29,"c":"N"},{"m":0.966,"p":55,"c":"N"},{"m":0.991,"p":45,"c":"N"},{"m":0.951,"p":34,"c":"N"},{"m":0.979,"p":57,"c":"N"},{"m":0.963,"p":27,"c":"N"},{"m":0.996,"p":38,"c":"N"},{"m":0.973,"p":49,"c":"N"},{"m":0.957,"p":22,"c":"N"},{"m":0.989,"p":42,"c":"N"},{"m":0.969,"p":52,"c":"N"},{"m":0.981,"p":31,"c":"N"},{"m":0.954,"p":56,"c":"N"},{"m":0.997,"p":24,"c":"N"},{"m":0.976,"p":41,"c":"N"},{"m":0.961,"p":48,"c":"N"},{"m":0.986,"p":35,"c":"N"},{"m":0.993,"p":18,"c":"N"},{"m":0.967,"p":30,"c":"N"},{"m":0.952,"p":46,"c":"N"},{"m":0.978,"p":39,"c":"N"},{"m":0.988,"p":51,"c":"N"},{"m":0.964,"p":44,"c":"N"},
{"m":0.62,"p":8,"c":"N"},{"m":0.66,"p":4,"c":"N"},{"m":0.71,"p":11,"c":"N"},{"m":0.76,"p":6,"c":"N"},{"m":0.83,"p":9,"c":"N"},{"m":0.86,"p":4,"c":"N"},{"m":0.91,"p":12,"c":"N"},{"m":0.95,"p":7,"c":"N"},{"m":0.58,"p":6,"c":"N"},{"m":0.53,"p":3,"c":"N"},{"m":0.49,"p":5,"c":"N"},{"m":0.47,"p":1,"c":"N"},{"m":0.97,"p":10,"c":"N"},{"m":0.79,"p":13,"c":"N"},{"m":0.69,"p":12,"c":"N"},{"m":0.88,"p":14,"c":"N"},{"m":0.55,"p":10,"c":"N"},{"m":0.64,"p":13,"c":"N"},
{"m":0.112,"p":46,"c":"I"},{"m":0.127,"p":22,"c":"I"},{"m":0.138,"p":37,"c":"I"},{"m":0.144,"p":51,"c":"I"},{"m":0.119,"p":30,"c":"I"},
{"m":0.175,"p":55,"c":"I"},{"m":0.158,"p":41,"c":"I"},{"m":0.183,"p":18,"c":"I"},{"m":0.192,"p":33,"c":"I"},{"m":0.167,"p":47,"c":"I"},
{"m":0.205,"p":27,"c":"I"},{"m":0.218,"p":52,"c":"I"},{"m":0.229,"p":39,"c":"I"},{"m":0.241,"p":14,"c":"I"},{"m":0.236,"p":45,"c":"I"},
{"m":0.256,"p":49,"c":"I"},{"m":0.263,"p":31,"c":"I"},{"m":0.277,"p":20,"c":"I"},{"m":0.288,"p":42,"c":"I"},{"m":0.296,"p":53,"c":"I"},
{"m":0.303,"p":36,"c":"I"},{"m":0.312,"p":50,"c":"I"},{"m":0.321,"p":25,"c":"I"},{"m":0.334,"p":44,"c":"I"},{"m":0.341,"p":56,"c":"I"},{"m":0.347,"p":12,"c":"I"},{"m":0.328,"p":40,"c":"I"},
{"m":0.356,"p":47,"c":"I"},{"m":0.362,"p":30,"c":"I"},{"m":0.371,"p":53,"c":"I"},{"m":0.379,"p":21,"c":"I"},{"m":0.385,"p":41,"c":"I"},{"m":0.394,"p":57,"c":"I"},{"m":0.398,"p":35,"c":"I"},
{"m":0.42,"p":59.7,"c":"I"},{"m":0.408,"p":48,"c":"I"},{"m":0.415,"p":26,"c":"I"},{"m":0.426,"p":43,"c":"I"},{"m":0.433,"p":16,"c":"I"},{"m":0.441,"p":54,"c":"I"},{"m":0.447,"p":37,"c":"I"},
{"m":0.452,"p":56,"c":"I"},{"m":0.458,"p":40,"c":"I"},{"m":0.463,"p":29,"c":"I"},{"m":0.469,"p":50,"c":"I"},{"m":0.474,"p":14,"c":"I"},{"m":0.481,"p":46,"c":"I"},{"m":0.487,"p":33,"c":"I"},{"m":0.492,"p":59,"c":"I"},{"m":0.496,"p":23,"c":"I"},{"m":0.477,"p":61,"c":"I"},
{"m":0.505,"p":68.6,"c":"I"},{"m":0.511,"p":44,"c":"I"},{"m":0.517,"p":31,"c":"I"},{"m":0.523,"p":55,"c":"I"},{"m":0.529,"p":18,"c":"I"},{"m":0.534,"p":49,"c":"I"},{"m":0.538,"p":38,"c":"I"},{"m":0.544,"p":60,"c":"I"},{"m":0.547,"p":27,"c":"I"},{"m":0.521,"p":9,"c":"I"},
{"m":0.553,"p":52,"c":"I"},{"m":0.558,"p":35,"c":"I"},{"m":0.563,"p":45,"c":"I"},{"m":0.569,"p":24,"c":"I"},{"m":0.575,"p":58,"c":"I"},{"m":0.581,"p":40,"c":"I"},{"m":0.586,"p":13,"c":"I"},{"m":0.591,"p":50,"c":"I"},{"m":0.596,"p":30,"c":"I"},{"m":0.572,"p":62,"c":"I"},
{"m":0.602,"p":47,"c":"I"},{"m":0.606,"p":22,"c":"I"},{"m":0.611,"p":56,"c":"I"},{"m":0.615,"p":36,"c":"I"},{"m":0.621,"p":42,"c":"I"},{"m":0.626,"p":11,"c":"I"},{"m":0.631,"p":60,"c":"I"},{"m":0.635,"p":29,"c":"I"},{"m":0.641,"p":51,"c":"I"},{"m":0.646,"p":39,"c":"I"},{"m":0.618,"p":62,"c":"I"},{"m":0.638,"p":17,"c":"I"},{"m":0.624,"p":45,"c":"I"},
{"m":0.652,"p":57,"c":"I"},{"m":0.656,"p":33,"c":"I"},{"m":0.661,"p":44,"c":"I"},{"m":0.667,"p":20,"c":"I"},{"m":0.672,"p":53,"c":"I"},{"m":0.676,"p":38,"c":"I"},{"m":0.682,"p":61,"c":"I"},{"m":0.686,"p":26,"c":"I"},{"m":0.691,"p":48,"c":"I"},{"m":0.697,"p":14,"c":"I"},{"m":0.664,"p":41,"c":"I"},{"m":0.679,"p":7,"c":"I"},{"m":0.694,"p":55,"c":"I"},
{"m":0.703,"p":52,"c":"I"},{"m":0.707,"p":30,"c":"I"},{"m":0.712,"p":45,"c":"I"},{"m":0.716,"p":59,"c":"I"},{"m":0.722,"p":23,"c":"I"},{"m":0.727,"p":40,"c":"I"},{"m":0.731,"p":56,"c":"I"},{"m":0.736,"p":12,"c":"I"},{"m":0.741,"p":47,"c":"I"},{"m":0.746,"p":35,"c":"I"},{"m":0.718,"p":63,"c":"I"},{"m":0.733,"p":28,"c":"I"},{"m":0.748,"p":54,"c":"I"},
{"m":0.752,"p":43,"c":"I"},{"m":0.757,"p":58,"c":"I"},{"m":0.762,"p":25,"c":"I"},{"m":0.766,"p":50,"c":"I"},{"m":0.771,"p":37,"c":"I"},{"m":0.776,"p":16,"c":"I"},{"m":0.781,"p":55,"c":"I"},{"m":0.786,"p":31,"c":"I"},{"m":0.792,"p":47,"c":"I"},{"m":0.797,"p":62,"c":"I"},{"m":0.769,"p":9,"c":"I"},{"m":0.784,"p":41,"c":"I"},{"m":0.795,"p":22,"c":"I"},
{"m":0.806,"p":64.2,"c":"I"},{"m":0.803,"p":46,"c":"I"},{"m":0.808,"p":28,"c":"I"},{"m":0.813,"p":53,"c":"I"},{"m":0.817,"p":38,"c":"I"},{"m":0.822,"p":18,"c":"I"},{"m":0.827,"p":57,"c":"I"},{"m":0.832,"p":42,"c":"I"},{"m":0.836,"p":8,"c":"I"},{"m":0.841,"p":50,"c":"I"},{"m":0.846,"p":33,"c":"I"},{"m":0.815,"p":60,"c":"I"},{"m":0.829,"p":24,"c":"I"},{"m":0.844,"p":13,"c":"I"},{"m":0.849,"p":45,"c":"I"},
{"m":0.874,"p":64.6,"c":"I"},{"m":0.852,"p":55,"c":"I"},{"m":0.857,"p":36,"c":"I"},{"m":0.861,"p":47,"c":"I"},{"m":0.866,"p":21,"c":"I"},{"m":0.871,"p":58,"c":"I"},{"m":0.877,"p":40,"c":"I"},{"m":0.882,"p":12,"c":"I"},{"m":0.886,"p":52,"c":"I"},{"m":0.891,"p":30,"c":"I"},{"m":0.896,"p":44,"c":"I"},{"m":0.864,"p":6,"c":"I"},{"m":0.879,"p":26,"c":"I"},{"m":0.893,"p":61,"c":"I"},{"m":0.898,"p":17,"c":"I"},
{"m":0.907,"p":68.8,"c":"I"},{"m":0.9,"p":66,"c":"I"},{"m":0.949,"p":84,"c":"I"},{"m":0.903,"p":49,"c":"I"},{"m":0.912,"p":34,"c":"I"},{"m":0.917,"p":57,"c":"I"},{"m":0.921,"p":15,"c":"I"},{"m":0.926,"p":44,"c":"I"},{"m":0.931,"p":27,"c":"I"},{"m":0.936,"p":53,"c":"I"},{"m":0.941,"p":39,"c":"I"},{"m":0.946,"p":10,"c":"I"},{"m":0.915,"p":22,"c":"I"},{"m":0.928,"p":60,"c":"I"},{"m":0.944,"p":47,"c":"I"},
{"m":0.985,"p":69,"c":"I"},{"m":0.953,"p":54,"c":"I"},{"m":0.958,"p":31,"c":"I"},{"m":0.963,"p":45,"c":"I"},{"m":0.968,"p":18,"c":"I"},{"m":0.972,"p":58,"c":"I"},{"m":0.977,"p":38,"c":"I"},{"m":0.982,"p":8,"c":"I"},{"m":0.987,"p":50,"c":"I"},{"m":0.992,"p":25,"c":"I"},{"m":0.996,"p":42,"c":"I"},{"m":0.961,"p":63,"c":"I"},{"m":0.975,"p":13,"c":"I"},{"m":0.99,"p":35,"c":"I"},{"m":0.998,"p":56,"c":"I"},
{"m":0.104,"p":4,"c":"L"},{"m":0.118,"p":2,"c":"L"},{"m":0.123,"p":10,"c":"L"},{"m":0.134,"p":13,"c":"L"},{"m":0.139,"p":3,"c":"L"},{"m":0.147,"p":1,"c":"L"},{"m":0.108,"p":15,"c":"L"},{"m":0.126,"p":6,"c":"L"},
{"m":0.152,"p":6,"c":"L"},{"m":0.163,"p":9,"c":"L"},{"m":0.168,"p":4,"c":"L"},{"m":0.172,"p":12,"c":"L"},{"m":0.182,"p":3,"c":"L"},{"m":0.188,"p":14,"c":"L"},{"m":0.197,"p":10,"c":"L"},{"m":0.185,"p":1,"c":"L"},
{"m":0.203,"p":8,"c":"L"},{"m":0.214,"p":11,"c":"L"},{"m":0.219,"p":5,"c":"L"},{"m":0.228,"p":13,"c":"L"},{"m":0.233,"p":6,"c":"L"},{"m":0.243,"p":2,"c":"L"},{"m":0.247,"p":16,"c":"L"},{"m":0.236,"p":4,"c":"L"},
{"m":0.252,"p":5,"c":"L"},{"m":0.257,"p":10,"c":"L"},{"m":0.267,"p":7,"c":"L"},{"m":0.271,"p":13,"c":"L"},{"m":0.281,"p":9,"c":"L"},{"m":0.286,"p":1,"c":"L"},{"m":0.291,"p":15,"c":"L"},{"m":0.274,"p":18,"c":"L"},{"m":0.259,"p":12,"c":"L"},
{"m":0.303,"p":7,"c":"L"},{"m":0.313,"p":11,"c":"L"},{"m":0.318,"p":5,"c":"L"},{"m":0.322,"p":15,"c":"L"},{"m":0.332,"p":9,"c":"L"},{"m":0.337,"p":13,"c":"L"},{"m":0.342,"p":4,"c":"L"},{"m":0.339,"p":1,"c":"L"},
{"m":0.352,"p":6,"c":"L"},{"m":0.357,"p":10,"c":"L"},{"m":0.366,"p":14,"c":"L"},{"m":0.371,"p":5,"c":"L"},{"m":0.381,"p":3,"c":"L"},{"m":0.386,"p":12,"c":"L"},{"m":0.396,"p":17,"c":"L"},{"m":0.369,"p":22,"c":"L"},{"m":0.384,"p":1,"c":"L"},{"m":0.374,"p":11,"c":"L"},
{"m":0.402,"p":4,"c":"L"},{"m":0.407,"p":9,"c":"L"},{"m":0.417,"p":12,"c":"L"},{"m":0.422,"p":6,"c":"L"},{"m":0.432,"p":15,"c":"L"},{"m":0.437,"p":7,"c":"L"},{"m":0.447,"p":2,"c":"L"},{"m":0.419,"p":19,"c":"L"},{"m":0.439,"p":5,"c":"L"},
{"m":0.452,"p":8,"c":"L"},{"m":0.462,"p":11,"c":"L"},{"m":0.467,"p":5,"c":"L"},{"m":0.472,"p":14,"c":"L"},{"m":0.482,"p":7,"c":"L"},{"m":0.487,"p":10,"c":"L"},{"m":0.497,"p":17,"c":"L"},{"m":0.469,"p":23,"c":"L"},{"m":0.489,"p":1,"c":"L"},
{"m":0.503,"p":5,"c":"L"},{"m":0.508,"p":9,"c":"L"},{"m":0.518,"p":13,"c":"L"},{"m":0.523,"p":6,"c":"L"},{"m":0.533,"p":11,"c":"L"},{"m":0.538,"p":1,"c":"L"},{"m":0.543,"p":8,"c":"L"},{"m":0.548,"p":16,"c":"L"},{"m":0.525,"p":21,"c":"L"},{"m":0.541,"p":28,"c":"L"},
{"m":0.552,"p":7,"c":"L"},{"m":0.562,"p":10,"c":"L"},{"m":0.567,"p":5,"c":"L"},{"m":0.572,"p":14,"c":"L"},{"m":0.582,"p":8,"c":"L"},{"m":0.587,"p":12,"c":"L"},{"m":0.592,"p":4,"c":"L"},{"m":0.597,"p":19,"c":"L"},{"m":0.574,"p":25,"c":"L"},{"m":0.594,"p":9,"c":"L"},
{"m":0.602,"p":6,"c":"L"},{"m":0.612,"p":11,"c":"L"},{"m":0.617,"p":4,"c":"L"},{"m":0.622,"p":9,"c":"L"},{"m":0.627,"p":15,"c":"L"},{"m":0.632,"p":7,"c":"L"},{"m":0.642,"p":12,"c":"L"},{"m":0.647,"p":1,"c":"L"},{"m":0.619,"p":22,"c":"L"},{"m":0.639,"p":31,"c":"L"},{"m":0.645,"p":18,"c":"L"},
{"m":0.652,"p":8,"c":"L"},{"m":0.662,"p":13,"c":"L"},{"m":0.667,"p":2,"c":"L"},{"m":0.672,"p":10,"c":"L"},{"m":0.682,"p":16,"c":"L"},{"m":0.687,"p":3,"c":"L"},{"m":0.692,"p":9,"c":"L"},{"m":0.697,"p":12,"c":"L"},{"m":0.664,"p":27,"c":"L"},{"m":0.684,"p":20,"c":"L"},{"m":0.694,"p":35,"c":"L"},{"m":0.674,"p":1,"c":"L"},
{"m":0.702,"p":5,"c":"L"},{"m":0.707,"p":11,"c":"L"},{"m":0.712,"p":2,"c":"L"},{"m":0.717,"p":8,"c":"L"},{"m":0.722,"p":14,"c":"L"},{"m":0.732,"p":18,"c":"L"},{"m":0.737,"p":7,"c":"L"},{"m":0.742,"p":1,"c":"L"},{"m":0.747,"p":10,"c":"L"},{"m":0.714,"p":24,"c":"L"},{"m":0.729,"p":30,"c":"L"},{"m":0.744,"p":21,"c":"L"},{"m":0.719,"p":13,"c":"L"},{"m":0.734,"p":40,"c":"L"},{"m":0.749,"p":6,"c":"L"},
{"m":0.752,"p":3,"c":"L"},{"m":0.756,"p":9,"c":"L"},{"m":0.765,"p":15,"c":"L"},{"m":0.769,"p":2,"c":"L"},{"m":0.773,"p":11,"c":"L"},{"m":0.778,"p":7,"c":"L"},{"m":0.781,"p":60.7,"c":"L"},{"m":0.784,"p":19,"c":"L"},{"m":0.788,"p":4,"c":"L"},{"m":0.792,"p":13,"c":"L"},{"m":0.796,"p":26,"c":"L"},{"m":0.758,"p":33,"c":"L"},{"m":0.771,"p":22,"c":"L"},{"m":0.786,"p":38,"c":"L"},{"m":0.799,"p":8,"c":"L"},{"m":0.776,"p":45,"c":"L"},
{"m":0.802,"p":7,"c":"L"},{"m":0.81,"p":12,"c":"L"},{"m":0.814,"p":5,"c":"L"},{"m":0.818,"p":17,"c":"L"},{"m":0.822,"p":9,"c":"L"},{"m":0.826,"p":24,"c":"L"},{"m":0.827,"p":59.3,"c":"L"},{"m":0.83,"p":3,"c":"L"},{"m":0.834,"p":14,"c":"L"},{"m":0.838,"p":31,"c":"L"},{"m":0.842,"p":6,"c":"L"},{"m":0.846,"p":20,"c":"L"},{"m":0.849,"p":11,"c":"L"},{"m":0.808,"p":36,"c":"L"},{"m":0.816,"p":27,"c":"L"},{"m":0.828,"p":42,"c":"L"},{"m":0.844,"p":48,"c":"L"},{"m":0.812,"p":16,"c":"L"},
{"m":0.852,"p":4,"c":"L"},{"m":0.855,"p":13,"c":"L"},{"m":0.859,"p":8,"c":"L"},{"m":0.863,"p":22,"c":"L"},{"m":0.871,"p":16,"c":"L"},{"m":0.875,"p":10,"c":"L"},{"m":0.879,"p":29,"c":"L"},{"m":0.883,"p":5,"c":"L"},{"m":0.887,"p":19,"c":"L"},{"m":0.89,"p":56.8,"c":"L"},{"m":0.891,"p":36,"c":"L"},{"m":0.895,"p":12,"c":"L"},{"m":0.898,"p":25,"c":"L"},{"m":0.857,"p":44,"c":"L"},{"m":0.869,"p":32,"c":"L"},{"m":0.881,"p":50,"c":"L"},{"m":0.893,"p":7,"c":"L"},{"m":0.861,"p":18,"c":"L"},{"m":0.873,"p":40,"c":"L"},{"m":0.885,"p":27,"c":"L"},
{"m":0.902,"p":9,"c":"L"},{"m":0.905,"p":3,"c":"L"},{"m":0.909,"p":17,"c":"L"},{"m":0.912,"p":28,"c":"L"},{"m":0.916,"p":6,"c":"L"},{"m":0.919,"p":21,"c":"L"},{"m":0.923,"p":12,"c":"L"},{"m":0.926,"p":38,"c":"L"},{"m":0.933,"p":15,"c":"L"},{"m":0.937,"p":47,"c":"L"},{"m":0.94,"p":24,"c":"L"},{"m":0.944,"p":8,"c":"L"},{"m":0.947,"p":33,"c":"L"},{"m":0.904,"p":42,"c":"L"},{"m":0.914,"p":52,"c":"L"},{"m":0.928,"p":19,"c":"L"},{"m":0.935,"p":30,"c":"L"},{"m":0.942,"p":13,"c":"L"},{"m":0.949,"p":44,"c":"L"},{"m":0.907,"p":25,"c":"L"},{"m":0.918,"p":35,"c":"L"},{"m":0.931,"p":10,"c":"L"},
{"m":0.99,"p":54.5,"c":"L"},{"m":0.952,"p":11,"c":"L"},{"m":0.955,"p":4,"c":"L"},{"m":0.958,"p":20,"c":"L"},{"m":0.962,"p":31,"c":"L"},{"m":0.965,"p":7,"c":"L"},{"m":0.968,"p":26,"c":"L"},{"m":0.972,"p":14,"c":"L"},{"m":0.975,"p":43,"c":"L"},{"m":0.981,"p":18,"c":"L"},{"m":0.984,"p":37,"c":"L"},{"m":0.987,"p":9,"c":"L"},{"m":0.991,"p":49,"c":"L"},{"m":0.994,"p":23,"c":"L"},{"m":0.997,"p":5,"c":"L"},{"m":0.954,"p":39,"c":"L"},{"m":0.96,"p":51,"c":"L"},{"m":0.966,"p":16,"c":"L"},{"m":0.97,"p":34,"c":"L"},{"m":0.976,"p":28,"c":"L"},{"m":0.98,"p":47,"c":"L"},{"m":0.986,"p":12,"c":"L"},{"m":0.989,"p":30,"c":"L"},{"m":0.993,"p":41,"c":"L"},{"m":0.996,"p":17,"c":"L"}
]
},
"columns":2,
"spacing":{"row":14,"column":13},
"bounds":"flush",
"resolve":{"scale":{"color":"independent","stroke":"independent","shape":"independent"}},
"concat":[
 {"width":258,"height":61,"data":{"name":"top"},
  "mark":{"type":"line","interpolate":"step-after","strokeWidth":2,"clip":true,"strokeJoin":"miter","opacity":0.9},
  "encoding":{
   "x":{"field":"m","type":"quantitative","scale":{"domain":[0.1,1.0],"nice":false,"zero":false},"axis":{"values":[0.2,0.4,0.6,0.8,1.0],"labels":false,"title":null}},
   "y":{"field":"n","type":"quantitative","scale":{"domain":[0,475],"nice":false},"axis":{"values":[0,250],"title":null}},
   "color":{"field":"c","type":"nominal","scale":{"domain":["N","I","L"],"range":["#ff7f0e","#2ca02c","#1f77b4"]},"legend":null},
   "order":{"field":"o","type":"quantitative"}
  }},
 {"width":66,"height":61,"view":{"stroke":null},"data":{"values":[{"t":"CTL"}]},
  "mark":{"type":"text","fontSize":20,"font":"Liberation Serif","color":"#222","baseline":"middle","align":"center"},
  "encoding":{"text":{"field":"t","type":"nominal"}}},
 {"width":258,"height":241,"data":{"name":"pts"},
  "mark":{"type":"point","filled":true,"size":40,"strokeWidth":1.1,"opacity":1,"clip":true},
  "encoding":{
   "x":{"field":"m","type":"quantitative","scale":{"domain":[0.1,1.0],"nice":false,"zero":false},"axis":{"values":[0.2,0.4,0.6,0.8,1.0],"format":".1f","title":"Mass [M⊙]","titlePadding":2}},
   "y":{"field":"p","type":"quantitative","scale":{"domain":[0,100],"nice":false},"axis":{"values":[0,20,40,60,80,100],"title":"Pᵣₒₜ [d]","titlePadding":4}},
   "color":{"field":"c","type":"nominal","scale":{"domain":["N","I","L"],"range":["#ff7f0e","#2ca02c","#1f77b4"]},
     "legend":{"title":null,"orient":"top-left","offset":5,"padding":4,"fillColor":"rgba(255,255,255,0.85)","strokeColor":"#cccccc","cornerRadius":3,"labelFontSize":12,"labelFont":"Liberation Serif","labelColor":"#222","symbolSize":22,"symbolStrokeWidth":1.2,"symbolOffset":10,"labelOffset":19,"rowPadding":5.5,"labelExpr":"datum.label=='N'?'Not Locked':datum.label=='I'?'Interacting':'Locked'"}},
   "stroke":{"field":"c","type":"nominal","scale":{"domain":["N","I","L"],"range":["#ff7f0e","#2ca02c","#1f77b4"]},
     "legend":{"title":null,"orient":"top-left","offset":5,"padding":4,"fillColor":"rgba(255,255,255,0.85)","strokeColor":"#cccccc","cornerRadius":3,"labelFontSize":12,"labelFont":"Liberation Serif","labelColor":"#222","symbolSize":22,"symbolStrokeWidth":1.2,"symbolOffset":10,"labelOffset":19,"rowPadding":5.5,"labelExpr":"datum.label=='N'?'Not Locked':datum.label=='I'?'Interacting':'Locked'"}},
   "shape":{"field":"c","type":"nominal","scale":{"domain":["N","I","L"],"range":["M0.9,0A0.9,0.9 0 1,1 -0.9,0A0.9,0.9 0 1,1 0.9,0Z","M0,-1L0.55,0L0,1L-0.55,0Z","M-0.72,-0.72L0.72,0.72M-0.72,0.72L0.72,-0.72"]},
     "legend":{"title":null,"orient":"top-left","offset":5,"padding":4,"fillColor":"rgba(255,255,255,0.85)","strokeColor":"#cccccc","cornerRadius":3,"labelFontSize":12,"labelFont":"Liberation Serif","labelColor":"#222","symbolSize":22,"symbolStrokeWidth":1.2,"symbolOffset":10,"labelOffset":19,"rowPadding":5.5,"labelExpr":"datum.label=='N'?'Not Locked':datum.label=='I'?'Interacting':'Locked'"}}
  }},
 {"width":66,"height":241,"data":{"name":"right"},
  "mark":{"type":"line","interpolate":"step-before","strokeWidth":2,"clip":true,"strokeJoin":"miter","opacity":0.9},
  "encoding":{
   "x":{"field":"n","type":"quantitative","scale":{"domain":[0,440],"nice":false},"axis":{"values":[0,250],"title":null}},
   "y":{"field":"p","type":"quantitative","scale":{"domain":[0,100],"nice":false},"axis":{"values":[0,20,40,60,80,100],"labels":false,"title":null}},
   "color":{"field":"c","type":"nominal","scale":{"domain":["N","I","L"],"range":["#ff7f0e","#2ca02c","#1f77b4"]},
     "legend":{"title":null,"orient":"top-left","offset":0,"padding":2,"fillColor":"rgba(255,255,255,0.85)","strokeColor":"#cccccc","cornerRadius":2,"labelFontSize":7.5,"labelFont":"Liberation Serif","labelColor":"#222","symbolType":"M-1.95,-0.5L1.95,-0.5L1.95,0.5L-1.95,0.5Z","symbolSize":64,"symbolStrokeWidth":2,"symbolFillColor":"transparent","symbolOffset":4,"labelOffset":10,"rowPadding":1,"labelExpr":"datum.label=='N'?'Not Locked':datum.label=='I'?'Interacting':'Locked'"}},
   "order":{"field":"o","type":"quantitative"}
  }}
]
}
